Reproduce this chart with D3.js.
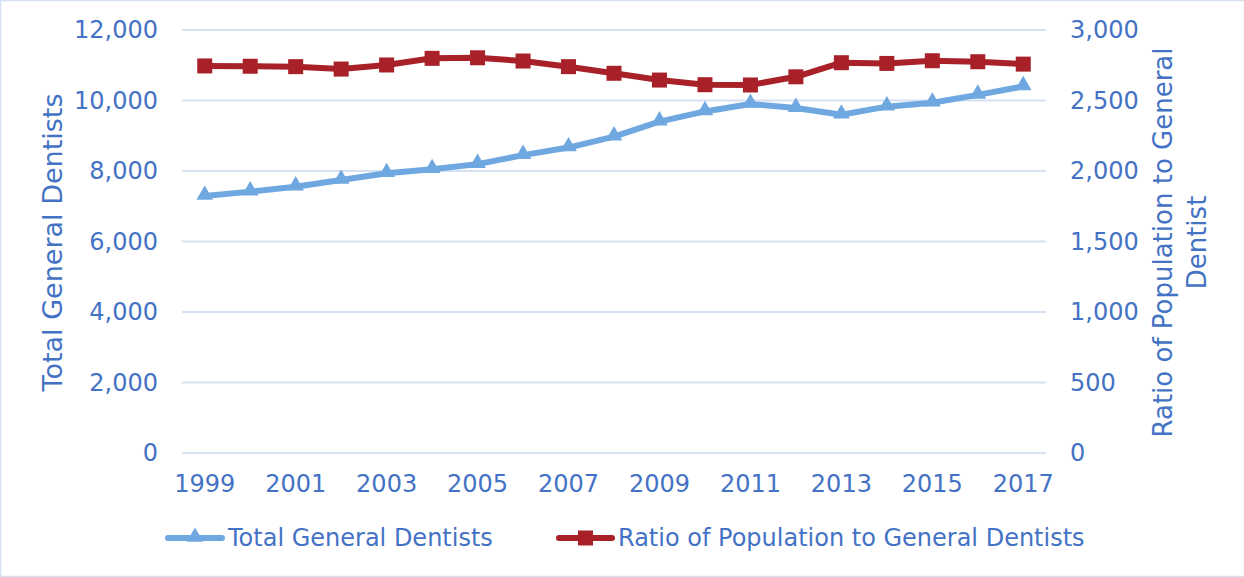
<!DOCTYPE html>
<html><head><meta charset="utf-8">
<script src="https://cdn.jsdelivr.net/npm/d3@7/dist/d3.min.js"></script>
<style>
html,body{margin:0;padding:0;background:#fff;}
text{font-family:"DejaVu Sans",Verdana,sans-serif;fill:#4472c4;}
</style></head>
<body><svg id="c" width="1244" height="577"></svg>
<script>
const years = [1999,2000,2001,2002,2003,2004,2005,2006,2007,2008,2009,2010,2011,2012,2013,2014,2015,2016,2017];
const totalDentists = [7290,7415,7555,7745,7935,8050,8195,8450,8665,8975,9400,9690,9900,9785,9595,9825,9935,10160,10400];
const ratioPop = [2745,2743,2740,2723,2752,2799,2803,2780,2740,2693,2645,2612,2610,2668,2768,2763,2782,2775,2758];
const leftTicks = [0,2000,4000,6000,8000,10000,12000];
const rightTicks = [0,500,1000,1500,2000,2500,3000];
const xLabels = [1999,2001,2003,2005,2007,2009,2011,2013,2015,2017];

(function(){
const W=1244,H=577;
const svg=d3.select("#c");
const blue="#6fa8e0", red="#a82128", grid="#d6e0f3", txt="#4472c4";
const fs=24;

svg.append("rect").attr("x",0.5).attr("y",0.5).attr("width",W).attr("height",H-1)
  .attr("fill","#fff").attr("stroke","#d6e0f3").attr("stroke-width",1.5);

const pL=182, pR=1046, pT=30, pB=453;
const x=d3.scaleBand().domain(years).range([pL,pR]);
const yL=d3.scaleLinear().domain([0,12000]).range([pB,pT]);
const yR=d3.scaleLinear().domain([0,3000]).range([pB,pT]);
const fmt=d3.format(",");

svg.append("g").selectAll("line").data(leftTicks).join("line")
  .attr("x1",pL).attr("x2",pR).attr("y1",d=>yL(d)).attr("y2",d=>yL(d))
  .attr("stroke",grid).attr("stroke-width",2);

const gl=svg.append("g").attr("transform",`translate(${pL-24},0)`)
  .call(d3.axisLeft(yL).tickValues(leftTicks).tickFormat(fmt).tickSize(0).tickPadding(0));
gl.select(".domain").remove();
gl.selectAll("text").attr("font-size",fs).attr("fill",txt).attr("font-family","DejaVu Sans");

const gr=svg.append("g").attr("transform",`translate(${pR+24},0)`)
  .call(d3.axisRight(yR).tickValues(rightTicks).tickFormat(fmt).tickSize(0).tickPadding(0));
gr.select(".domain").remove();
gr.selectAll("text").attr("font-size",fs).attr("fill",txt).attr("font-family","DejaVu Sans");

const gx=svg.append("g").attr("transform",`translate(0,${pB+12})`)
  .call(d3.axisBottom(x).tickValues(xLabels).tickSize(0).tickPadding(10));
gx.select(".domain").remove();
gx.selectAll("text").attr("font-size",fs).attr("fill",txt).attr("font-family","DejaVu Sans");

svg.append("text").attr("transform",`translate(62,${(pT+pB)/2+1}) rotate(-90)`)
  .attr("text-anchor","middle").attr("font-size",27).text("Total General Dentists");
const rt=svg.append("text").attr("transform",`translate(1172,${(pT+pB)/2+1}) rotate(-90)`)
  .attr("text-anchor","middle").attr("font-size",26);
rt.append("tspan").attr("x",0).attr("dy",0).text("Ratio of Population to General");
rt.append("tspan").attr("x",0).attr("dy",34).text("Dentist");

const cx=d=>x(d)+x.bandwidth()/2;

svg.append("path").datum(totalDentists)
  .attr("d",d3.line().x((d,i)=>cx(years[i])).y(d=>yL(d)))
  .attr("fill","none").attr("stroke",blue).attr("stroke-width",6).attr("stroke-linejoin","round").attr("stroke-linecap","round");
const tri=d3.symbol().type(d3.symbolTriangle).size(120);
svg.append("g").selectAll("path").data(totalDentists).join("path")
  .attr("d",tri).attr("transform",(d,i)=>`translate(${cx(years[i])},${yL(d)-1})`).attr("fill",blue);

svg.append("path").datum(ratioPop)
  .attr("d",d3.line().x((d,i)=>cx(years[i])).y(d=>yR(d)))
  .attr("fill","none").attr("stroke",red).attr("stroke-width",6).attr("stroke-linejoin","round").attr("stroke-linecap","round");
svg.append("g").selectAll("rect").data(ratioPop).join("rect")
  .attr("x",(d,i)=>cx(years[i])-7.5).attr("y",d=>yR(d)-7.5).attr("width",15).attr("height",15).attr("fill",red);

const ly=538;
const lg1=svg.append("g");
lg1.append("line").attr("x1",168).attr("x2",222).attr("y1",ly).attr("y2",ly).attr("stroke",blue).attr("stroke-width",6).attr("stroke-linecap","round");
lg1.append("path").attr("d",tri).attr("transform",`translate(195,${ly-1})`).attr("fill",blue);
lg1.append("text").attr("x",228).attr("y",ly+8).attr("font-size",fs).text("Total General Dentists");
const lg2=svg.append("g");
lg2.append("line").attr("x1",559).attr("x2",612).attr("y1",ly).attr("y2",ly).attr("stroke",red).attr("stroke-width",6).attr("stroke-linecap","round");
lg2.append("rect").attr("x",578).attr("y",ly-7.5).attr("width",15).attr("height",15).attr("fill",red);
lg2.append("text").attr("x",618).attr("y",ly+8).attr("font-size",fs).text("Ratio of Population to General Dentists");
})();
</script></body></html>
